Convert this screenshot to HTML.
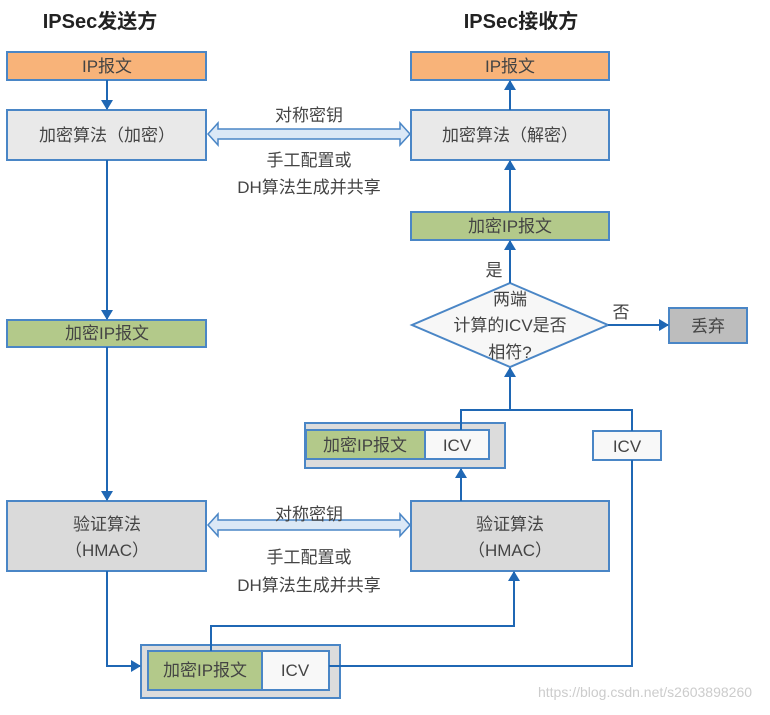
<!DOCTYPE html>
<html><head><meta charset="utf-8"><style>
body{margin:0;background:#fff;}
svg text{font-family:"Liberation Sans","Noto Sans CJK SC",sans-serif;fill:#444;}
</style></head><body>
<svg width="770" height="710" viewBox="0 0 770 710" xmlns="http://www.w3.org/2000/svg">
<defs>
<marker id="a" markerWidth="10" markerHeight="12" refX="9" refY="6" orient="auto" markerUnits="userSpaceOnUse">
<path d="M0,0 L10,6 L0,12 z" fill="#1f67b4"/></marker>
</defs>
<g font-size="20" font-weight="bold" text-anchor="middle">
<text x="100" y="28" style="fill:#222">IPSec发送方</text>
<text x="521" y="28" style="fill:#222">IPSec接收方</text>
</g>
<g stroke="#4a86c6" stroke-width="2">
<rect x="7" y="52" width="199" height="28" fill="#f8b379"/>
<rect x="411" y="52" width="198" height="28" fill="#f8b379"/>
<rect x="7" y="110" width="199" height="50" fill="#e9e9e9"/>
<rect x="411" y="110" width="198" height="50" fill="#e9e9e9"/>
<rect x="411" y="212" width="198" height="28" fill="#b3c98a"/>
<rect x="7" y="320" width="199" height="27" fill="#b3c98a"/>
<rect x="7" y="501" width="199" height="70" fill="#dadada"/>
<rect x="411" y="501" width="198" height="70" fill="#dadada"/>
<polygon points="510,283 608,325 510,367 412,325" fill="#f7f7f7"/>
<rect x="669" y="308" width="78" height="35" fill="#bdbdbd"/>
<rect x="305" y="423" width="200" height="45" fill="#dcdcdc"/>
<rect x="306" y="430" width="119" height="29" fill="#b3c98a"/>
<rect x="425" y="430" width="64" height="29" fill="#f8f8f8"/>
<rect x="593" y="431" width="68" height="29" fill="#f8f8f8"/>
<rect x="141" y="645" width="199" height="53" fill="#dcdcdc"/>
<rect x="148" y="651" width="114" height="39" fill="#b3c98a"/>
<rect x="262" y="651" width="67" height="39" fill="#f8f8f8"/>
</g>
<g stroke="#1f67b4" stroke-width="2" fill="none">
<line x1="107" y1="80" x2="107" y2="109" marker-end="url(#a)"/>
<line x1="107" y1="160" x2="107" y2="319" marker-end="url(#a)"/>
<line x1="107" y1="347" x2="107" y2="500" marker-end="url(#a)"/>
<polyline points="107,571 107,666 140,666" marker-end="url(#a)"/>
<polyline points="211,651 211,626 514,626 514,572" marker-end="url(#a)"/>
<line x1="461" y1="501" x2="461" y2="469" marker-end="url(#a)"/>
<line x1="510" y1="212" x2="510" y2="161" marker-end="url(#a)"/>
<line x1="510" y1="110" x2="510" y2="81" marker-end="url(#a)"/>
<line x1="510" y1="283" x2="510" y2="241" marker-end="url(#a)"/>
<line x1="608" y1="325" x2="668" y2="325" marker-end="url(#a)"/>
<polyline points="461,430 461,410 632,410 632,431"/>
<line x1="510" y1="410" x2="510" y2="368" marker-end="url(#a)"/>
<polyline points="329,666 632,666 632,460"/>
</g>
<g fill="#dbe8f6" stroke="#4a86c6" stroke-width="1.5">
<polygon points="208,134 218,123 218,129 400,129 400,123 410,134 400,145 400,139 218,139 218,145"/>
<polygon points="208,525 218,514 218,520 400,520 400,514 410,525 400,536 400,530 218,530 218,536"/>
</g>
<g font-size="17" text-anchor="middle">
<text x="107" y="72">IP报文</text>
<text x="510" y="72">IP报文</text>
<text x="107" y="141">加密算法（加密）</text>
<text x="510" y="141">加密算法（解密）</text>
<text x="510" y="232">加密IP报文</text>
<text x="107" y="339">加密IP报文</text>
<text x="107" y="530">验证算法</text>
<text x="107" y="556">（HMAC）</text>
<text x="510" y="530">验证算法</text>
<text x="510" y="556">（HMAC）</text>
<text x="309" y="121">对称密钥</text>
<text x="309" y="166">手工配置或</text>
<text x="309" y="193">DH算法生成并共享</text>
<text x="309" y="520">对称密钥</text>
<text x="309" y="563">手工配置或</text>
<text x="309" y="591">DH算法生成并共享</text>
<text x="510" y="305">两端</text>
<text x="510" y="331">计算的ICV是否</text>
<text x="510" y="358">相符?</text>
<text x="494" y="276">是</text>
<text x="621" y="318">否</text>
<text x="708" y="332">丢弃</text>
<text x="365" y="451">加密IP报文</text>
<text x="457" y="451">ICV</text>
<text x="627" y="452">ICV</text>
<text x="205" y="676">加密IP报文</text>
<text x="295" y="676">ICV</text>
</g>
<text x="645" y="697" font-size="14" style="fill:#ccc" text-anchor="middle">https://blog.csdn.net/s2603898260</text>
</svg>
</body></html>
